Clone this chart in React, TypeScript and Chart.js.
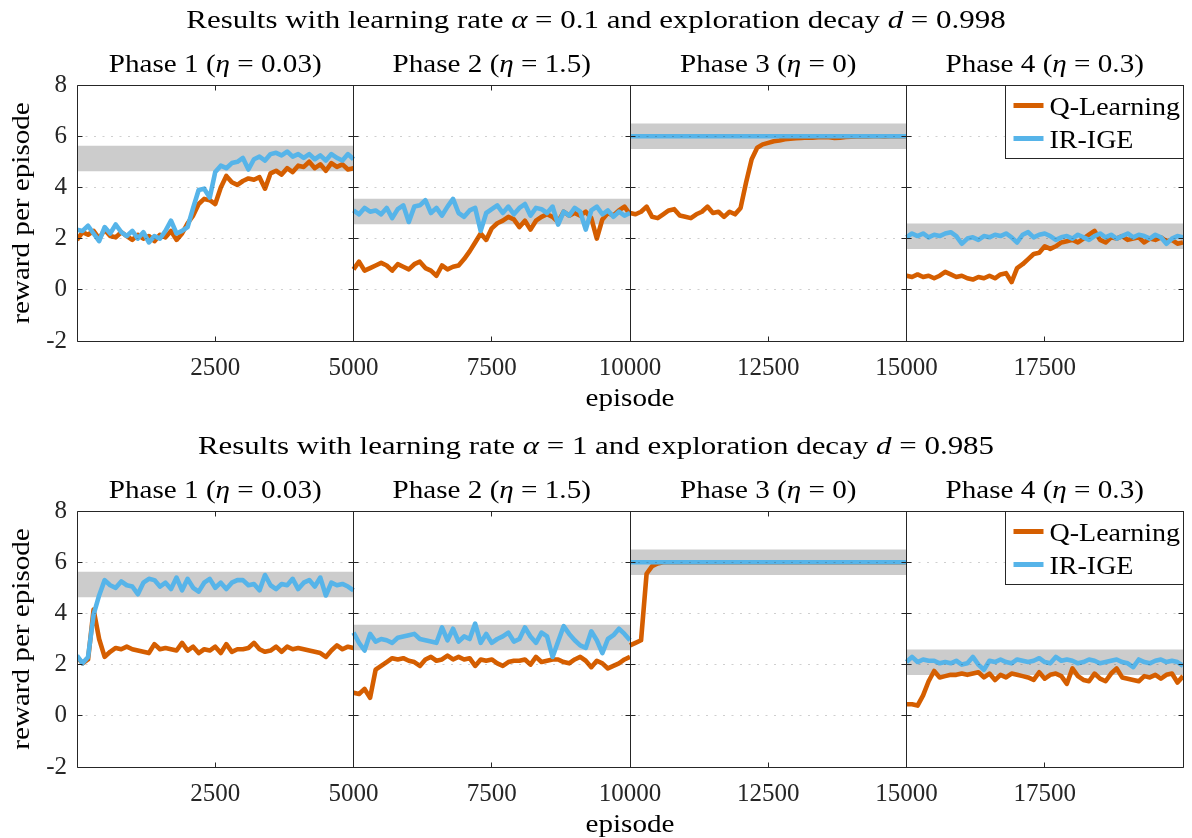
import React, { useEffect, useRef } from "react";
import { Chart, registerables } from "chart.js";

Chart.register(...registerables);

// ---- data -------------------------------------------------------------
const phaseStarts = [0, 5000, 10000, 15000];
const phaseLength = 5000;
const episodeStep = 100;
const phaseNames = ["Phase 1", "Phase 2", "Phase 3", "Phase 4"];
const etaValues = ["0.03", "1.5", "0", "0.3"];
const bandLow = [4.63, 2.56, 5.5, 1.59];
const bandHigh = [5.63, 3.56, 6.5, 2.59];
const xTickValues = [2500, 5000, 7500, 10000, 12500, 15000, 17500];
const yTickValues = [-2, 0, 2, 4, 6, 8];
const gridValues = [0, 2, 4, 6];
const seriesNames = ["Q-Learning", "IR-IGE"];
const learningRates = ["0.1", "1"];
const decayRates = ["0.998", "0.985"];

// alpha = 0.1, d = 0.998
const topQ1 = [1.95, 2.25, 2.15, 2.3, 2.0, 2.35, 2.1, 2.05, 2.25, 2.1, 1.95, 2.15, 2.0, 2.1, 1.9, 2.15, 2.05, 2.3, 1.95, 2.2, 2.6, 2.9, 3.35, 3.55, 3.5, 3.35, 4.0, 4.45, 4.2, 4.1, 4.25, 4.35, 4.3, 4.4, 3.95, 4.55, 4.65, 4.5, 4.75, 4.6, 4.85, 4.8, 5.0, 4.75, 4.9, 4.65, 4.95, 4.8, 4.9, 4.7, 4.75];
const topI1 = [2.35, 2.3, 2.5, 2.2, 1.9, 2.45, 2.2, 2.55, 2.25, 2.1, 2.3, 2.0, 2.25, 1.85, 2.1, 2.0, 2.3, 2.7, 2.2, 2.3, 2.45, 3.2, 3.9, 3.95, 3.6, 4.6, 4.85, 4.75, 4.95, 5.0, 5.15, 4.7, 5.1, 5.2, 5.05, 5.3, 5.35, 5.25, 5.4, 5.2, 5.3, 5.15, 5.3, 5.1, 5.25, 5.05, 5.3, 5.15, 5.05, 5.3, 5.1];
const topQ2 = [0.8, 1.1, 0.75, 0.85, 0.95, 1.05, 0.95, 0.75, 1.0, 0.9, 0.8, 1.0, 1.1, 0.85, 0.75, 0.55, 0.95, 0.8, 0.9, 0.95, 1.2, 1.5, 1.85, 2.2, 1.95, 2.4, 2.6, 2.7, 2.85, 2.75, 2.45, 2.7, 2.35, 2.7, 2.85, 2.95, 2.85, 2.65, 3.05, 2.9, 3.0, 2.9, 3.05, 2.8, 2.0, 2.75, 3.0, 2.9, 3.1, 3.25, 2.95];
const topI2 = [3.1, 2.95, 3.2, 3.05, 3.1, 2.95, 3.2, 2.8, 3.15, 3.3, 2.65, 3.25, 3.3, 3.5, 3.0, 3.2, 2.9, 3.25, 3.55, 3.0, 2.85, 3.1, 3.2, 2.3, 3.0, 3.15, 3.3, 3.0, 3.25, 2.95, 3.2, 3.35, 2.9, 3.2, 3.15, 3.0, 3.25, 2.55, 3.05, 2.9, 3.2, 3.05, 2.35, 3.1, 3.25, 2.95, 3.1, 2.85, 3.05, 2.9, 3.0];
const topQ3 = [3.0, 2.95, 3.05, 3.25, 2.85, 2.8, 2.95, 3.1, 3.15, 2.9, 2.85, 2.8, 2.95, 3.05, 3.25, 3.0, 3.05, 2.85, 3.05, 2.95, 3.2, 4.2, 5.1, 5.55, 5.68, 5.74, 5.8, 5.83, 5.88, 5.9, 5.92, 5.93, 5.95, 5.94, 5.96, 5.97, 5.96, 5.93, 5.94, 5.97, 5.98, 5.99, 6.0, 5.99, 6.0, 6.0, 5.99, 6.0, 6.0, 6.0, 6.0];
const topI3 = [6, 6, 6, 6, 6, 6, 6, 6, 6, 6, 6, 6, 6, 6, 6, 6, 6, 6, 6, 6, 6, 6, 6, 6, 6, 6, 6, 6, 6, 6, 6, 6, 6, 6, 6, 6, 6, 6, 6, 6, 6, 6, 6, 6, 6, 6, 6, 6, 6, 6, 6];
const topQ4 = [0.55, 0.5, 0.6, 0.5, 0.55, 0.45, 0.55, 0.7, 0.6, 0.5, 0.55, 0.45, 0.4, 0.5, 0.45, 0.55, 0.45, 0.6, 0.65, 0.3, 0.85, 1.0, 1.2, 1.4, 1.45, 1.7, 1.6, 1.7, 1.85, 1.9, 1.95, 1.85, 2.0, 2.15, 2.3, 1.95, 1.85, 2.05, 2.0, 2.1, 1.95, 2.0, 2.05, 1.85, 2.0, 1.95, 2.05, 1.9, 1.95, 1.8, 1.85];
const topI4 = [2.05, 2.2, 2.1, 2.2, 2.05, 2.15, 2.1, 2.2, 2.25, 2.1, 1.8, 2.0, 2.05, 1.95, 2.1, 2.05, 2.15, 2.1, 2.2, 2.05, 1.85, 2.15, 2.25, 2.05, 2.15, 2.2, 2.1, 1.95, 2.05, 2.1, 2.0, 2.15, 2.05, 1.95, 2.1, 2.2, 2.05, 2.15, 2.0, 2.1, 2.2, 2.05, 2.15, 2.1, 2.0, 2.15, 2.05, 1.8, 2.0, 2.1, 2.05];

// alpha = 1, d = 0.985
const botQ1 = [2.3, 2.05, 2.2, 4.15, 3.0, 2.3, 2.5, 2.65, 2.6, 2.7, 2.6, 2.55, 2.5, 2.45, 2.8, 2.6, 2.65, 2.6, 2.55, 2.85, 2.55, 2.7, 2.45, 2.6, 2.55, 2.7, 2.45, 2.8, 2.5, 2.6, 2.6, 2.65, 2.85, 2.6, 2.5, 2.55, 2.7, 2.5, 2.7, 2.6, 2.65, 2.6, 2.55, 2.5, 2.45, 2.3, 2.55, 2.75, 2.6, 2.7, 2.65];
const botI1 = [2.35, 2.05, 2.3, 3.95, 4.7, 5.3, 5.1, 5.0, 5.25, 5.1, 5.05, 4.75, 5.2, 5.35, 5.3, 5.05, 5.2, 4.95, 5.4, 4.9, 5.35, 5.0, 4.85, 5.2, 5.35, 5.0, 5.2, 4.95, 5.2, 5.3, 5.3, 5.1, 5.15, 4.9, 5.5, 5.1, 4.95, 5.15, 5.1, 5.35, 4.95, 5.2, 5.3, 5.05, 5.4, 4.7, 5.2, 5.1, 5.15, 5.05, 4.9];
const botQ2 = [0.9, 0.85, 1.05, 0.7, 1.8, 1.95, 2.1, 2.25, 2.2, 2.25, 2.15, 2.1, 1.95, 2.2, 2.3, 2.15, 2.2, 2.35, 2.2, 2.3, 2.2, 2.25, 1.95, 2.2, 2.15, 2.2, 2.05, 1.95, 2.1, 2.15, 2.15, 2.2, 2.0, 2.3, 2.1, 2.15, 2.2, 2.2, 2.1, 2.05, 2.2, 2.3, 2.15, 1.9, 2.15, 2.05, 1.85, 1.95, 2.05, 2.2, 2.3];
const botI2 = [3.25, 2.85, 2.55, 3.2, 2.9, 3.0, 2.95, 2.85, 3.05, 3.1, 3.15, 3.2, 3.0, 2.95, 2.9, 2.85, 3.45, 2.95, 3.4, 2.9, 3.1, 3.0, 3.6, 2.85, 3.2, 2.85, 3.0, 3.1, 3.25, 2.9, 3.0, 3.45, 3.1, 2.85, 3.25, 3.1, 2.3, 2.9, 3.5, 3.2, 2.95, 2.75, 2.65, 3.3, 2.95, 2.45, 3.0, 3.15, 3.4, 3.2, 2.95];
const botQ3 = [2.75, 2.85, 2.95, 5.55, 5.85, 5.95, 6, 6, 6, 6, 6, 6, 6, 6, 6, 6, 6, 6, 6, 6, 6, 6, 6, 6, 6, 6, 6, 6, 6, 6, 6, 6, 6, 6, 6, 6, 6, 6, 6, 6, 6, 6, 6, 6, 6, 6, 6, 6, 6, 6, 6];
const botI3 = [6, 6, 6, 6, 6, 6, 6, 6, 6, 6, 6, 6, 6, 6, 6, 6, 6, 6, 6, 6, 6, 6, 6, 6, 6, 6, 6, 6, 6, 6, 6, 6, 6, 6, 6, 6, 6, 6, 6, 6, 6, 6, 6, 6, 6, 6, 6, 6, 6, 6, 6];
const botQ4 = [0.45, 0.45, 0.4, 0.8, 1.35, 1.75, 1.5, 1.55, 1.6, 1.6, 1.65, 1.6, 1.65, 1.7, 1.5, 1.65, 1.4, 1.6, 1.5, 1.65, 1.6, 1.55, 1.5, 1.4, 1.7, 1.45, 1.6, 1.65, 1.55, 1.25, 1.85, 1.55, 1.4, 1.35, 1.65, 1.45, 1.35, 1.65, 1.85, 1.5, 1.45, 1.4, 1.35, 1.55, 1.5, 1.6, 1.45, 1.6, 1.65, 1.3, 1.55];
const botI4 = [2.1, 2.3, 2.1, 2.2, 2.15, 2.15, 2.05, 2.1, 2.05, 2.15, 2.0, 2.05, 2.3, 2.0, 1.8, 2.15, 2.1, 2.2, 2.1, 2.05, 2.2, 2.15, 2.1, 2.15, 2.25, 2.1, 2.05, 2.3, 2.15, 2.2, 2.15, 2.05, 2.1, 2.2, 2.15, 2.05, 2.1, 2.15, 2.2, 2.1, 2.05, 1.9, 2.2, 2.1, 2.05, 2.15, 2.2, 2.1, 2.15, 2.1, 1.95];

// ---- styling ----------------------------------------------------------
const Q_COLOR = "#D55E00";
const R_COLOR = "#56B4E9";
const BAND_COLOR = "#cccccc";
const AXIS_COLOR = "#262626";
const FONT = '"Liberation Serif", "Times New Roman", serif';
const TEXT_SIZE = 26;
const TEXT_STRETCH = 1.12;
const TITLE_STRETCH = 1.19;
const LINE_WIDTH = 4.6;

const PLOT_LEFT = 77;
const PLOT_RIGHT = 1183;
const PLOT_TOP = 85;
const PLOT_BOTTOM = 341;

type Run = { t: string; i?: boolean };

function runFont(italic: boolean | undefined, size: number) {
  return `${italic ? "italic " : ""}${size}px ${FONT}`;
}

function drawRuns(
  ctx: CanvasRenderingContext2D,
  runs: Run[],
  cx: number,
  baseline: number,
  size: number,
  align: "center" | "left" = "center",
  rotate = false,
  stretch = TEXT_STRETCH
) {
  let w = 0;
  for (const r of runs) {
    ctx.font = runFont(r.i, size);
    w += ctx.measureText(r.t).width;
  }
  ctx.save();
  ctx.translate(cx, baseline);
  if (rotate) ctx.rotate(-Math.PI / 2);
  ctx.scale(stretch, 1);
  ctx.textBaseline = "alphabetic";
  ctx.textAlign = "left";
  ctx.fillStyle = "#000";
  let x = align === "center" ? -w / 2 : 0;
  for (const r of runs) {
    ctx.font = runFont(r.i, size);
    ctx.fillText(r.t, x, 0);
    x += ctx.measureText(r.t).width;
  }
  ctx.restore();
}

function toPoints(start: number, values: number[]) {
  return values.map((v, i) => ({ x: start + i * episodeStep, y: v }));
}

type PanelProps = {
  height: number;
  rateIndex: number;
  qSeries: number[][];
  rSeries: number[][];
};

function Panel({ height, rateIndex, qSeries, rSeries }: PanelProps) {
  const ref = useRef<HTMLCanvasElement | null>(null);

  useEffect(() => {
    const canvas = ref.current;
    if (!canvas) return;

    const datasets: any[] = [];
    phaseStarts.forEach((start, p) => {
      const end = start + phaseLength;
      datasets.push({
        data: [{ x: start, y: bandLow[p] }, { x: end, y: bandLow[p] }],
        borderColor: "rgba(0,0,0,0)",
        borderWidth: 0,
        pointRadius: 0,
        fill: false,
        order: 3,
      });
      datasets.push({
        data: [{ x: start, y: bandHigh[p] }, { x: end, y: bandHigh[p] }],
        borderColor: "rgba(0,0,0,0)",
        borderWidth: 0,
        pointRadius: 0,
        fill: "-1",
        backgroundColor: BAND_COLOR,
        order: 3,
      });
    });
    phaseStarts.forEach((start, p) => {
      datasets.push({
        label: seriesNames[0],
        data: toPoints(start, qSeries[p]),
        borderColor: Q_COLOR,
        borderWidth: LINE_WIDTH,
        borderJoinStyle: "round",
        pointRadius: 0,
        fill: false,
        order: 2,
      });
      datasets.push({
        label: seriesNames[1],
        data: toPoints(start, rSeries[p]),
        borderColor: R_COLOR,
        borderWidth: LINE_WIDTH,
        borderJoinStyle: "round",
        pointRadius: 0,
        fill: false,
        order: 1,
      });
    });

    const decor = {
      id: "phaseDecor",
      afterDatasetsDraw(chart: any) {
        const { ctx, chartArea: a, scales } = chart;
        const xs = scales.x;
        const ys = scales.y;
        ctx.save();
        // dotted horizontal grid, drawn above the data
        ctx.strokeStyle = "rgba(38,38,38,0.22)";
        ctx.lineWidth = 1;
        ctx.setLineDash([2, 6.5]);
        for (const v of gridValues) {
          const py = Math.floor(ys.getPixelForValue(v)) + 0.5;
          ctx.beginPath();
          ctx.moveTo(a.left, py);
          ctx.lineTo(a.right, py);
          ctx.stroke();
        }
        ctx.setLineDash([]);

        // boxes around each phase
        ctx.strokeStyle = AXIS_COLOR;
        ctx.lineWidth = 1;
        const edges = [...phaseStarts, phaseStarts[3] + phaseLength].map(
          (v) => Math.floor(xs.getPixelForValue(v)) + 0.5
        );
        const top = Math.floor(a.top) + 0.5;
        const bottom = Math.floor(a.bottom) + 0.5;
        ctx.beginPath();
        ctx.moveTo(edges[0], top);
        ctx.lineTo(edges[4], top);
        ctx.moveTo(edges[0], bottom);
        ctx.lineTo(edges[4], bottom);
        for (const e of edges) {
          ctx.moveTo(e, top);
          ctx.lineTo(e, bottom);
        }
        // inward tick marks
        const tl = 5;
        for (let k = 0; k < edges.length; k++) {
          for (const v of yTickValues) {
            const py = Math.floor(ys.getPixelForValue(v)) + 0.5;
            const l = k > 0 ? edges[k] - tl : edges[k];
            const r = k < edges.length - 1 ? edges[k] + tl : edges[k];
            ctx.moveTo(l, py);
            ctx.lineTo(r, py);
          }
        }
        for (const v of xTickValues) {
          const px = Math.floor(xs.getPixelForValue(v)) + 0.5;
          ctx.moveTo(px, top);
          ctx.lineTo(px, top + tl);
          ctx.moveTo(px, bottom);
          ctx.lineTo(px, bottom - tl);
        }
        ctx.stroke();

        // legend box inside the last phase
        const lw = 178;
        const lh = 73;
        const lx = Math.floor(a.right) - lw + 0.5;
        const ly = top;
        ctx.fillStyle = "#fff";
        ctx.fillRect(lx, ly, lw, lh);
        ctx.strokeRect(lx, ly, lw, lh);
        const rows = [
          { name: seriesNames[0], color: Q_COLOR, dy: 20 },
          { name: seriesNames[1], color: R_COLOR, dy: 53 },
        ];
        for (const row of rows) {
          ctx.strokeStyle = row.color;
          ctx.lineWidth = 5;
          ctx.beginPath();
          ctx.moveTo(lx + 8, ly + row.dy);
          ctx.lineTo(lx + 38, ly + row.dy);
          ctx.stroke();
          drawRuns(ctx, [{ t: row.name }], lx + 44, ly + row.dy + 9, 25, "left");
        }
        ctx.restore();
      },
      afterDraw(chart: any) {
        const { ctx, chartArea: a, scales } = chart;
        const xs = scales.x;
        ctx.save();
        drawRuns(
          ctx,
          [
            { t: "Results with learning rate " },
            { t: "α", i: true },
            { t: ` = ${learningRates[rateIndex]} and exploration decay ` },
            { t: "d", i: true },
            { t: ` = ${decayRates[rateIndex]}` },
          ],
          596,
          28,
          TEXT_SIZE,
          "center",
          false,
          TITLE_STRETCH
        );
        phaseStarts.forEach((start, p) => {
          const cx =
            (xs.getPixelForValue(start) + xs.getPixelForValue(start + phaseLength)) / 2;
          drawRuns(
            ctx,
            [{ t: `${phaseNames[p]} (` }, { t: "η", i: true }, { t: ` = ${etaValues[p]})` }],
            cx,
            72,
            TEXT_SIZE
          );
        });
        drawRuns(ctx, [{ t: "episode" }], (a.left + a.right) / 2, 406, TEXT_SIZE);
        drawRuns(ctx, [{ t: "reward per episode" }], 28.5, (a.top + a.bottom) / 2, TEXT_SIZE, "center", true);
        ctx.restore();
      },
    };

    const chart = new Chart(canvas, {
      type: "line",
      data: { datasets },
      options: {
        animation: false,
        responsive: false,
        devicePixelRatio: 1,
        events: [],
        layout: { padding: { left: 0, top: PLOT_TOP, right: 1192 - PLOT_RIGHT, bottom: 0 } },
        plugins: {
          legend: { display: false },
          tooltip: { enabled: false },
          title: { display: false },
        },
        scales: {
          x: {
            type: "linear",
            min: 0,
            max: 20000,
            grid: { display: false, drawTicks: false },
            border: { display: false },
            afterBuildTicks: (s: any) => {
              s.ticks = xTickValues.map((v) => ({ value: v }));
            },
            afterFit: (s: any) => {
              s.height = height - PLOT_BOTTOM;
            },
            ticks: {
              autoSkip: false,
              maxRotation: 0,
              minRotation: 0,
              padding: 12,
              color: AXIS_COLOR,
              font: { family: FONT, size: 25 },
              callback: (v: any) => String(v),
            },
          },
          y: {
            type: "linear",
            min: -2,
            max: 8,
            grid: { display: false, drawTicks: false },
            border: { display: false },
            afterBuildTicks: (s: any) => {
              s.ticks = yTickValues.map((v) => ({ value: v }));
            },
            afterFit: (s: any) => {
              s.width = PLOT_LEFT;
            },
            ticks: {
              padding: 10,
              color: AXIS_COLOR,
              font: { family: FONT, size: 25 },
              callback: (v: any) => String(v),
            },
          },
        },
      },
      plugins: [decor],
    } as any);

    return () => chart.destroy();
  }, [height, rateIndex, qSeries, rSeries]);

  return (
    <canvas
      ref={ref}
      width={1192}
      height={height}
      style={{ display: "block", width: 1192, height }}
    />
  );
}

const topQ = [topQ1, topQ2, topQ3, topQ4];
const topI = [topI1, topI2, topI3, topI4];
const botQ = [botQ1, botQ2, botQ3, botQ4];
const botI = [botI1, botI2, botI3, botI4];

export default function App() {
  return (
    <div
      style={{
        position: "fixed",
        left: 0,
        top: 0,
        width: 1192,
        height: 838,
        overflow: "hidden",
        background: "#fff",
      }}
    >
      <Panel height={426} rateIndex={0} qSeries={topQ} rSeries={topI} />
      <Panel height={412} rateIndex={1} qSeries={botQ} rSeries={botI} />
    </div>
  );
}
